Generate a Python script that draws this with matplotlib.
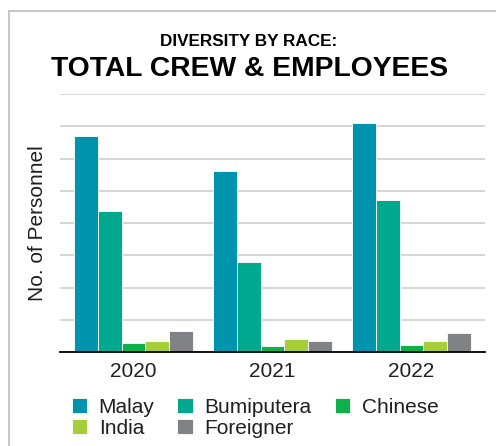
import numpy as np
import matplotlib.pyplot as plt
from matplotlib.patches import Rectangle

plt.rcParams['font.family'] = ['Liberation Sans', 'DejaVu Sans']

years = ['2020', '2021', '2022']
races = ['Malay', 'Bumiputera', 'Chinese', 'India', 'Foreigner']
malay = [3355, 2810, 3545]
bumiputera = [2190, 1400, 2360]
chinese = [140, 95, 110]
india = [170, 205, 170]
foreigner = [330, 170, 295]

colors = ['#0093AE', '#00A88E', '#0DB14B', '#A6CE39', '#808285']
text_color = '#231F20'

fig = plt.figure(figsize=(4.96, 4.46), dpi=100)

# light frame around the panel (open to the right and bottom)
fig.patches.append(Rectangle((9 / 496, -0.1), 1.2, 1 - 11 / 446 + 0.1,
                             transform=fig.transFigure, fill=False,
                             edgecolor='#C8C8C8', linewidth=1.5))

ax = fig.add_axes([60 / 496, (446 - 352) / 446, 425 / 496, (352 - 94) / 446])

x = np.arange(len(years))
width = 0.171
series = [malay, bumiputera, chinese, india, foreigner]
handles = []
for i, (vals, c) in enumerate(zip(series, colors)):
    b = ax.bar(x + (i - 2) * width, vals, width, color=c,
               edgecolor='white', linewidth=0.6, label=races[i], zorder=3)
    handles.append(b)

ax.set_xlim(-0.53, 2.53)
ax.set_ylim(0, 4000)
ax.set_yticks(np.arange(0, 4001, 500))
ax.yaxis.grid(True, color='#CFCFCF', linewidth=1.2, zorder=0)
ax.set_axisbelow(True)
for side in ['top', 'right', 'left']:
    ax.spines[side].set_visible(False)
ax.spines['bottom'].set_color('black')
ax.spines['bottom'].set_linewidth(1.3)
ax.spines['bottom'].set_zorder(4)
ax.tick_params(axis='y', length=0, labelleft=False)
ax.tick_params(axis='x', length=0, pad=7, labelsize=15, labelcolor=text_color)
ax.set_xticks(x)
ax.set_xticklabels(years)

fig.text(38 / 496, 1 - 223 / 446, 'No. of Personnel', rotation=90,
         ha='center', va='center', fontsize=15, color=text_color)

fig.text(249 / 496, 1 - 41 / 446, 'DIVERSITY BY RACE:', ha='center', va='center',
         fontsize=12.3, fontweight='bold', color='black')
fig.text(250 / 496, 1 - 69 / 446, 'TOTAL CREW & EMPLOYEES', ha='center', va='center',
         fontsize=20.3, fontweight='bold', color='black')

# legend filled column-wise, so order the entries to read row by row
order = [0, 3, 1, 4, 2]
fig.legend([handles[i] for i in order], [races[i] for i in order],
           ncol=3, loc='upper left', bbox_to_anchor=(57 / 496, 1 - 383 / 446),
           frameon=False, fontsize=15, handlelength=0.75, handleheight=0.75,
           handletextpad=0.55, columnspacing=1.1, labelspacing=0.1,
           labelcolor=text_color, borderpad=0.2)

plt.savefig('out.png', dpi=100)
